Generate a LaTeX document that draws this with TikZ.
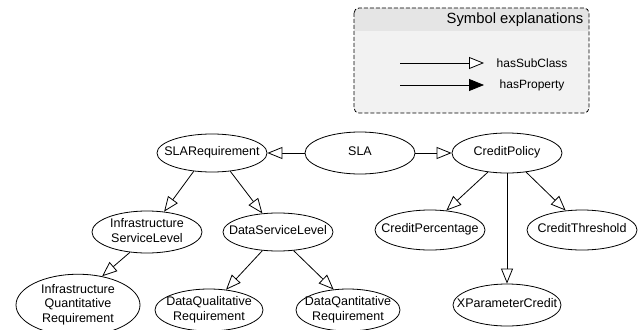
\documentclass[tikz,border=0pt]{standalone}
\usepackage{fontspec}
\setmainfont{Liberation Sans}
\usetikzlibrary{shapes.geometric,arrows.meta}

\tikzset{
  cls/.style={ellipse,draw,inner sep=0pt,minimum width=110pt,minimum height=38pt},
  subcls/.style={-{Triangle[open,fill=white,length=15pt,width=12pt]}},
  hasprop/.style={-{Triangle[length=15pt,width=12pt]}},
}
% zero-width label so the ellipse keeps its given size
\newcommand{\cname}[1]{\makebox[0pt]{\begin{tabular}{@{}c@{}}#1\end{tabular}}}

\begin{document}
\begin{tikzpicture}[x=1pt,y=-1pt,line width=0.8pt,font=\fontsize{12.5}{14.5}\selectfont]
  \useasboundingbox (0,0) rectangle (644,329);

  % legend
  \fill[black!5,rounded corners=5pt] (354,8) rectangle (589,113);
  \fill[black!10] (354,31) [rounded corners=5pt]-- (354,8) -- (589,8) [sharp corners]-- (589,31) -- cycle;
  \draw[dash pattern=on 4pt off 2pt,rounded corners=5pt] (354,8) rectangle (589,113);
  \node[anchor=east,font=\fontsize{14.8}{17}\selectfont] (legtitle) at (587,20) {Symbol explanations};
  \node[anchor=west,font=\fontsize{12}{14}\selectfont] (subtxt) at (493,63) {hasSubClass};
  \node[anchor=west,font=\fontsize{12}{14}\selectfont] (proptxt) at (496,85) {hasProperty};
  \coordinate (sub0) at (400,63); \coordinate (sub1) at (484,63);
  \coordinate (prop0) at (400,85); \coordinate (prop1) at (484,85);
  \draw[subcls] (sub0) -- (sub1);
  \draw[hasprop] (prop0) -- (prop1);

  % classes
  \node[cls] (slareq) at (212,153) {\cname{SLARequirement}};
  \node[cls,minimum height=42pt] (sla) at (360,153) {\cname{SLA}};
  \node[cls,minimum height=40pt] (credpol) at (507,153) {\cname{CreditPolicy}};
  \node[cls,minimum height=42pt] (infsl) at (147,232) {\cname{Infrastructure\\ServiceLevel}};
  \node[cls] (dsl) at (278,232) {\cname{DataServiceLevel}};
  \node[cls,minimum height=40pt] (credperc) at (430,230) {\cname{CreditPercentage}};
  \node[cls,minimum height=40pt] (credthr) at (582,230) {\cname{CreditThreshold}};
  \node[cls,minimum width=124pt,minimum height=56pt] (infqr) at (78,305) {\cname{Infrastructure\\Quantitative\\Requirement}};
  \node[cls,minimum width=108pt,minimum height=42pt] (dqual) at (209,310) {\cname{DataQualitative\\Requirement}};
  \node[cls,minimum width=104pt,minimum height=42pt] (dqant) at (348,310) {\cname{DataQantitative\\Requirement}};
  \node[cls,minimum width=108pt,minimum height=42pt] (xpc) at (507,305) {\cname{XParameterCredit}};

  % subclass links
  \draw[subcls] (sla.west) -- (slareq.east);
  \draw[subcls] (sla.east) -- (credpol.west);
  \draw[subcls] (slareq.225) -- (infsl.50);
  \draw[subcls] (slareq.315) -- (dsl.130);
  \draw[subcls] (infsl.230) -- (infqr.50);
  \draw[subcls] (dsl.230) -- (dqual.50);
  \draw[subcls] (dsl.310) -- (dqant.125);
  \draw[subcls] (credpol.225) -- (credperc.50);
  \draw[subcls] (credpol.315) -- (credthr.130);
  \draw[subcls] (credpol.south) -- (xpc.north);
\end{tikzpicture}
\end{document}
